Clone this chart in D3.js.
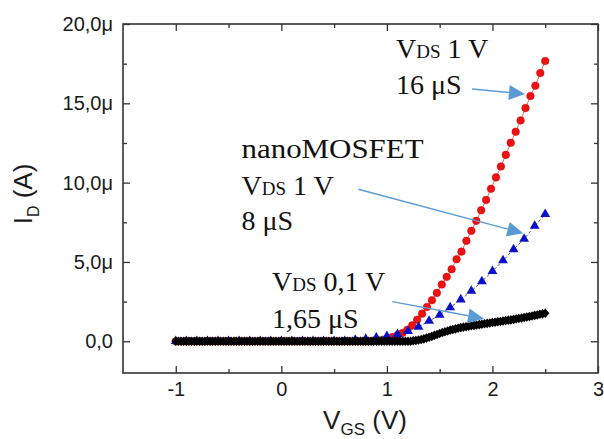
<!DOCTYPE html>
<html><head><meta charset="utf-8">
<script src="https://cdn.jsdelivr.net/npm/d3@7"></script>
<style>body{margin:0;background:#fff}</style>
</head><body><svg id="c" width="604" height="439"></svg>
<script>
// ---- data ----
const xTicks = [-1, 0, 1, 2, 3];
const xTickLabels = ["-1", "0", "1", "2", "3"];
const xMinor = [-0.5, 0.5, 1.5, 2.5];
const yTicks = [0, 5, 10, 15, 20];            // µA
const yTickLabels = ["0,0", "5,0μ", "10,0μ", "15,0μ", "20,0μ"];
const yMinor = [2.5, 7.5, 12.5, 17.5];

// V_DS 1 V (red circles), V_GS from -1 V, step 3.5/75 V, I_D in µA
const redStart = -1, redStep = 3.5 / 75;
const redI = [0,0,0,0,0,0,0,0,0,0, 0,0,0,0,0,0,0,0,0,0, 0,0,0,0,0,0,0,0,0,0, 0,0,0,0,0,0,0,0,0,0,
  0.03,0.06,0.10,0.17,
  0.27,0.38,0.52,0.73,1.00,1.36,1.74,2.16,2.59,3.05,3.58,4.06,4.54,5.17,5.65,6.33,
  6.96,7.59,8.26,8.91,9.61,10.33,11.02,11.75,12.51,13.21,13.92,14.70,15.46,16.11,16.91,17.67];

// nanoMOSFET V_DS 1 V (blue triangles), step 0.1 V
const blueStart = -1, blueStep = 0.1;
const blueI = [0,0,0,0,0,0,0,0,0,0,0,0,0,0,0,0,0,
  0.08,0.14,0.23,0.32,0.44,0.63,0.90,1.28,1.66,2.13,2.63,3.17,3.77,4.42,5.09,5.79,6.45,7.27,8.01];

// V_DS 0,1 V (black diamonds), step 0.025 V
const blackStart = -1, blackStep = 0.025;
const blackI = [0,0,0,0,0,0,0,0,0,0, 0,0,0,0,0,0,0,0,0,0, 0,0,0,0,0,0,0,0,0,0,
  0,0,0,0,0,0,0,0,0,0, 0,0,0,0,0,0,0,0,0,0, 0,0,0,0,0,0,0,0,0,0,
  0,0,0,0,0,0,0,0,0,0, 0,0,0,0,0,0,0,0,0,0, 0,0,0,0,0,0,0,0,0,0,
  0.03,0.05,0.08,0.11,0.15,0.20,0.25,0.31,0.37,0.43,0.49,0.55,0.60,0.65,0.70,0.74,0.78,0.82,
  0.86,0.89,0.92,0.95,0.98,1.00,1.03,1.05,1.08,1.10,1.13,1.15,1.18,1.20,1.23,1.25,1.28,1.30,
  1.33,1.35,1.38,1.41,1.44,1.47,1.50,1.53,1.56,1.59,1.63,1.66,1.70,1.73,1.77];

// annotations (data coordinates: V, µA)
const annoLines = [
  {x: 1.086, y: 17.86, parts: [["V",28],["DS",19],[" 1 V",28]]},
  {x: 1.086, y: 15.59, parts: [["16 μS",28]]},
  {x: -0.377, y: 11.55, parts: [["nanoMOSFET",28]], len: 182},
  {x: -0.377, y: 9.22, parts: [["V",28],["DS",19],[" 1 V",28]]},
  {x: -0.377, y: 7.02, parts: [["8 μS",28]]},
  {x: -0.089, y: 3.17, parts: [["V",28],["DS",19],[" 0,1 V",28]]},
  {x: -0.089, y: 0.84, parts: [["1,65 μS",28]]}
];
const arrows = [
  {x1: 1.806, y1: 15.90, x2: 2.308, y2: 15.59},
  {x1: 0.729, y1: 9.58, x2: 2.292, y2: 6.81},
  {x1: 1.051, y1: 2.50, x2: 1.920, y2: 1.42}
];

// ---- chart ----
const L = 123, R = 598, T = 24, B = 373;
const svg = d3.select("#c");
const x = d3.scaleLinear().domain([-1.5, 3]).range([L, R]);
const y = d3.scaleLinear().domain([-2, 20]).range([B, T]);

const axisColor = "#333";
const tickFont = "Liberation Sans, Arial, sans-serif";

// frame
svg.append("rect").attr("x", L).attr("y", T).attr("width", R - L).attr("height", B - T)
  .attr("fill", "none").attr("stroke", axisColor).attr("stroke-width", 1.6);

function styleAxis(g) {
  g.select(".domain").remove();
  g.selectAll(".tick line").attr("stroke", axisColor).attr("stroke-width", 1.3);
}
const fmtX = d => xTickLabels[xTicks.indexOf(d)];
const fmtY = d => yTickLabels[yTicks.indexOf(d)];

const gB = svg.append("g").attr("transform", `translate(0,${B})`)
  .call(d3.axisBottom(x).tickValues(xTicks).tickSizeInner(-7).tickSizeOuter(0).tickPadding(12).tickFormat(fmtX));
styleAxis(gB);
gB.selectAll("text").attr("font-family", tickFont).attr("font-size", 20).attr("fill", "#1a1a1a").attr("dy", "0.71em").attr("y", 9);
svg.append("g").attr("transform", `translate(0,${B})`)
  .call(d3.axisBottom(x).tickValues(xMinor).tickSizeInner(-4).tickSizeOuter(0).tickFormat(""))
  .call(styleAxis);
svg.append("g").attr("transform", `translate(0,${T})`)
  .call(d3.axisTop(x).tickValues(xTicks).tickSizeInner(-7).tickSizeOuter(0).tickFormat(""))
  .call(styleAxis);
svg.append("g").attr("transform", `translate(0,${T})`)
  .call(d3.axisTop(x).tickValues(xMinor).tickSizeInner(-4).tickSizeOuter(0).tickFormat(""))
  .call(styleAxis);

const gL = svg.append("g").attr("transform", `translate(${L},0)`)
  .call(d3.axisLeft(y).tickValues(yTicks).tickSizeInner(-7).tickSizeOuter(0).tickPadding(10).tickFormat(fmtY));
styleAxis(gL);
gL.selectAll("text").attr("font-family", tickFont).attr("font-size", 20).attr("fill", "#1a1a1a").attr("x", -10);
svg.append("g").attr("transform", `translate(${L},0)`)
  .call(d3.axisLeft(y).tickValues(yMinor).tickSizeInner(-4).tickSizeOuter(0).tickFormat(""))
  .call(styleAxis);
svg.append("g").attr("transform", `translate(${R},0)`)
  .call(d3.axisRight(y).tickValues(yTicks).tickSizeInner(-7).tickSizeOuter(0).tickFormat(""))
  .call(styleAxis);
svg.append("g").attr("transform", `translate(${R},0)`)
  .call(d3.axisRight(y).tickValues(yMinor).tickSizeInner(-4).tickSizeOuter(0).tickFormat(""))
  .call(styleAxis);

// axis titles
const xt = svg.append("text").attr("x", 365).attr("y", 429).attr("text-anchor", "middle")
  .attr("font-family", tickFont).attr("font-size", 26).attr("fill", "#1a1a1a");
xt.append("tspan").text("V");
xt.append("tspan").attr("font-size", 17).attr("dy", 6).text("GS");
xt.append("tspan").attr("dy", -6).text(" (V)");

const yt = svg.append("text").attr("transform", `translate(32,194) rotate(-90)`).attr("text-anchor", "middle")
  .attr("font-family", tickFont).attr("font-size", 26).attr("fill", "#1a1a1a");
yt.append("tspan").text("I");
yt.append("tspan").attr("font-size", 16).attr("dy", 7).text("D");
yt.append("tspan").attr("dy", -7).text(" (A)");

// series
const redData = redI.map((v, i) => [redStart + i * redStep, v]);
const blueData = blueI.map((v, i) => [blueStart + i * blueStep, v]);
const blackData = blackI.map((v, i) => [blackStart + i * blackStep, v]);
const line = d3.line().x(d => x(d[0])).y(d => y(d[1]));

const plot = svg.append("g");
plot.append("path").datum(redData).attr("d", line).attr("fill", "none").attr("stroke", "#e06a6a").attr("stroke-width", 1);
plot.selectAll(".r").data(redData).join("circle").attr("cx", d => x(d[0])).attr("cy", d => y(d[1]))
  .attr("r", 3.8).attr("fill", "#ee1111").attr("stroke", "#cc0000").attr("stroke-width", 0.5);
plot.append("path").datum(blueData).attr("d", line).attr("fill", "none").attr("stroke", "#555")
  .attr("stroke-width", 1).attr("stroke-dasharray", "3,2");
const tri = d3.symbol().type(d3.symbolTriangle).size(42);
plot.selectAll(".b").data(blueData).join("path").attr("d", tri)
  .attr("transform", d => `translate(${x(d[0])},${y(d[1])})`).attr("fill", "#0a10c8");
plot.append("path").datum(blackData).attr("d", line).attr("fill", "none").attr("stroke", "#000").attr("stroke-width", 1);
plot.selectAll(".k").data(blackData).join("path").attr("d", "M0,-4.8L4.2,0L0,4.8L-4.2,0Z")
  .attr("transform", d => `translate(${x(d[0])},${y(d[1])})`).attr("fill", "#000");

// annotations
const serif = "Liberation Serif, Times New Roman, serif";
annoLines.forEach(a => {
  const t = svg.append("text").attr("x", x(a.x)).attr("y", y(a.y))
    .attr("font-family", serif).attr("fill", "#111");
  if (a.len) t.attr("textLength", a.len).attr("lengthAdjust", "spacingAndGlyphs");
  a.parts.forEach(p => t.append("tspan").attr("font-size", p[1]).text(p[0]));
});
const arrowColor = "#5b9bd5";
arrows.forEach(a => {
  const X1 = x(a.x1), Y1 = y(a.y1), X2 = x(a.x2), Y2 = y(a.y2);
  const dx = X2 - X1, dy = Y2 - Y1, len = Math.hypot(dx, dy);
  const ux = dx / len, uy = dy / len;
  const hl = 16, hw = 7.5;
  const bx = X2 - ux * hl, by = Y2 - uy * hl;
  svg.append("line").attr("x1", X1).attr("y1", Y1).attr("x2", bx).attr("y2", by)
    .attr("stroke", arrowColor).attr("stroke-width", 1.4);
  svg.append("path").attr("d", `M${X2},${Y2}L${bx - uy * hw},${by + ux * hw}L${bx + uy * hw},${by - ux * hw}Z`)
    .attr("fill", arrowColor);
});
</script></body></html>
